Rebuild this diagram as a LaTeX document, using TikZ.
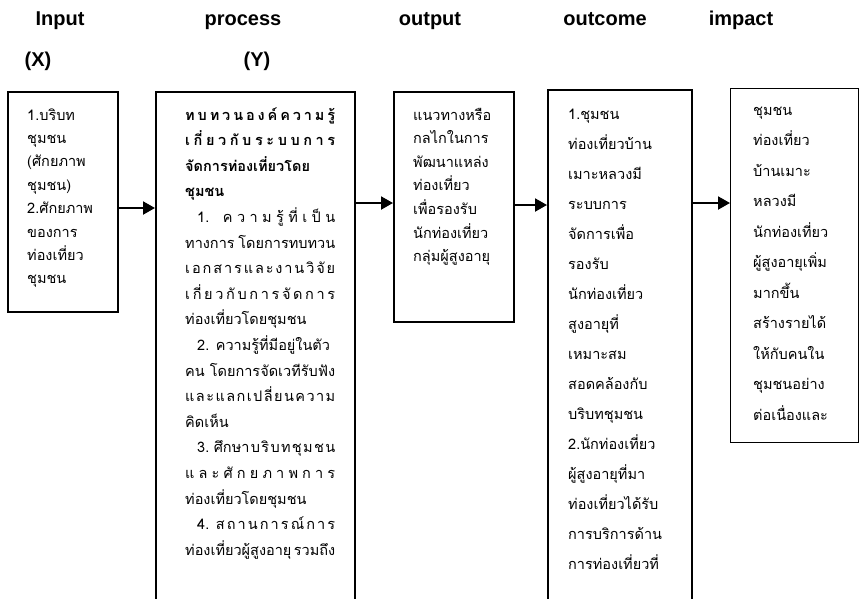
\documentclass[tikz,border=0pt]{standalone}
\usepackage{fontspec}
\setmainfont{Liberation Sans}
\newfontfamily\thaifont[Script=Thai]{Loma}
\usetikzlibrary{arrows.meta}
\newcommand\sprline[1]{{\spaceskip=0.6pt plus 1fil\makebox[150pt][s]{#1}}}
\begin{document}
\begin{tikzpicture}[x=1pt,y=-1pt,
  box/.style={draw, line width=1.5pt, inner sep=0, anchor=north west},
  hdr/.style={font=\fontsize{20}{23}\selectfont\bfseries, inner sep=0, anchor=base},
  tl/.style={anchor=base west, inner sep=0, font=\thaifont\fontsize{14.5}{17}\selectfont},
  arr/.style={line width=2pt, -{Triangle[length=12pt,width=13pt]}}]
\useasboundingbox (0,0) rectangle (859,598);
% headers
\node[hdr] (hin) at (60,25) {Input};
\node[hdr] (hpr) at (243,25) {process};
\node[hdr] (hout) at (430,25) {output};
\node[hdr] (hoc) at (605,25) {outcome};
\node[hdr] (him) at (741,25) {impact};
\node[hdr] (hx) at (38,66) {(X)};
\node[hdr] (hy) at (257,66) {(Y)};
% boxes
\node[box, minimum width=110pt, minimum height=220pt] (b1) at (7,91) {};
\node[box, minimum width=199pt, minimum height=530pt] (b2) at (155,91) {};
\node[box, minimum width=120pt, minimum height=230pt] (b3) at (393,91) {};
\node[box, line width=2pt, minimum width=144pt, minimum height=530pt] (b4) at (547,89) {};
\node[box, line width=1.2pt, minimum width=128pt, minimum height=354pt] (b5) at (730,88) {};
% arrows
\coordinate (y1) at (0,208);
\coordinate (y2) at (0,203);
\coordinate (y3) at (0,205);
\coordinate (y4) at (0,203);
\draw[arr] (b1.east |- y1) -- (b2.west |- y1);
\draw[arr] (b2.east |- y2) -- (b3.west |- y2);
\draw[arr] (b3.east |- y3) -- (b4.west |- y3);
\draw[arr] (b4.east |- y4) -- (b5.west |- y4);
% box 1 text
\foreach \t [count=\i] in {1.บริบท, ชุมชน, {(ศักยภาพ}, {ชุมชน)}, 2.ศักยภาพ, ของการ, ท่องเที่ยว, ชุมชน}
  \node[tl] (b1l\i) at (27,{120+(\i-1)*23.4}) {\t};
% box 2 text
\foreach \t [count=\i] in {
  {\bfseries\sprline{ท บ ท ว น อ ง ค์ ค ว า ม รู้}},
  {\bfseries\sprline{เ กี่ ย ว กั บ ร ะ บ บ ก า ร}},
  {\bfseries จัดการท่องเที่ยวโดย},
  {\bfseries ชุมชน},
  {\sprline{\hspace*{12pt}1. ค ว า ม รู้ ที่ เ ป็ น}},
  {\sprline{ทางการ โดยการทบทวน}},
  {\sprline{เ อ ก ส า ร แ ล ะ ง า น วิ จั ย}},
  {\sprline{เ กี่ ย ว กั บ ก า ร จั ด ก า ร}},
  {ท่องเที่ยวโดยชุมชน},
  {\hspace*{12pt}2. ความรู้ที่มีอยู่ในตัว},
  {\sprline{คน โดยการจัดเวทีรับฟัง}},
  {\sprline{แ ล ะ แ ล ก เ ป ลี่ ย น ค ว า ม}},
  {คิดเห็น},
  {\sprline{\hspace*{12pt}3. ศึกษา บ ริ บ ท ชุ ม ช น}},
  {\sprline{แ ล ะ ศั ก ย ภ า พ ก า ร}},
  {ท่องเที่ยวโดยชุมชน},
  {\sprline{\hspace*{12pt}4. ส ถ า น ก า ร ณ์ ก า ร}},
  {\sprline{ท่องเที่ยวผู้สูงอายุ รวมถึง}}}
  \node[tl] (b2l\i) at (185,{120+(\i-1)*25.6}) {\t};
% box 3 text
\foreach \t [count=\i] in {แนวทางหรือ, กลไกในการ, พัฒนาแหล่ง, ท่องเที่ยว, เพื่อรองรับ, นักท่องเที่ยว, กลุ่มผู้สูงอายุ}
  \node[tl] (b3l\i) at (413,{120+(\i-1)*23.6}) {\t};
% box 4 text
\foreach \t [count=\i] in {1.ชุมชน, ท่องเที่ยวบ้าน, เมาะหลวงมี, ระบบการ, จัดการเพื่อ, รองรับ, นักท่องเที่ยว, สูงอายุที่, เหมาะสม, สอดคล้องกับ, บริบทชุมชน, 2.นักท่องเที่ยว, ผู้สูงอายุที่มา, ท่องเที่ยวได้รับ, การบริการด้าน, การท่องเที่ยวที่}
  \node[tl] (b4l\i) at (568,{119+(\i-1)*30}) {\t};
% box 5 text
\foreach \t [count=\i] in {ชุมชน, ท่องเที่ยว, บ้านเมาะ, หลวงมี, นักท่องเที่ยว, ผู้สูงอายุเพิ่ม, มากขึ้น, สร้างรายได้, ให้กับคนใน, ชุมชนอย่าง, ต่อเนื่องและ}
  \node[tl] (b5l\i) at (753,{115+(\i-1)*30.5}) {\t};
\end{tikzpicture}
\end{document}
